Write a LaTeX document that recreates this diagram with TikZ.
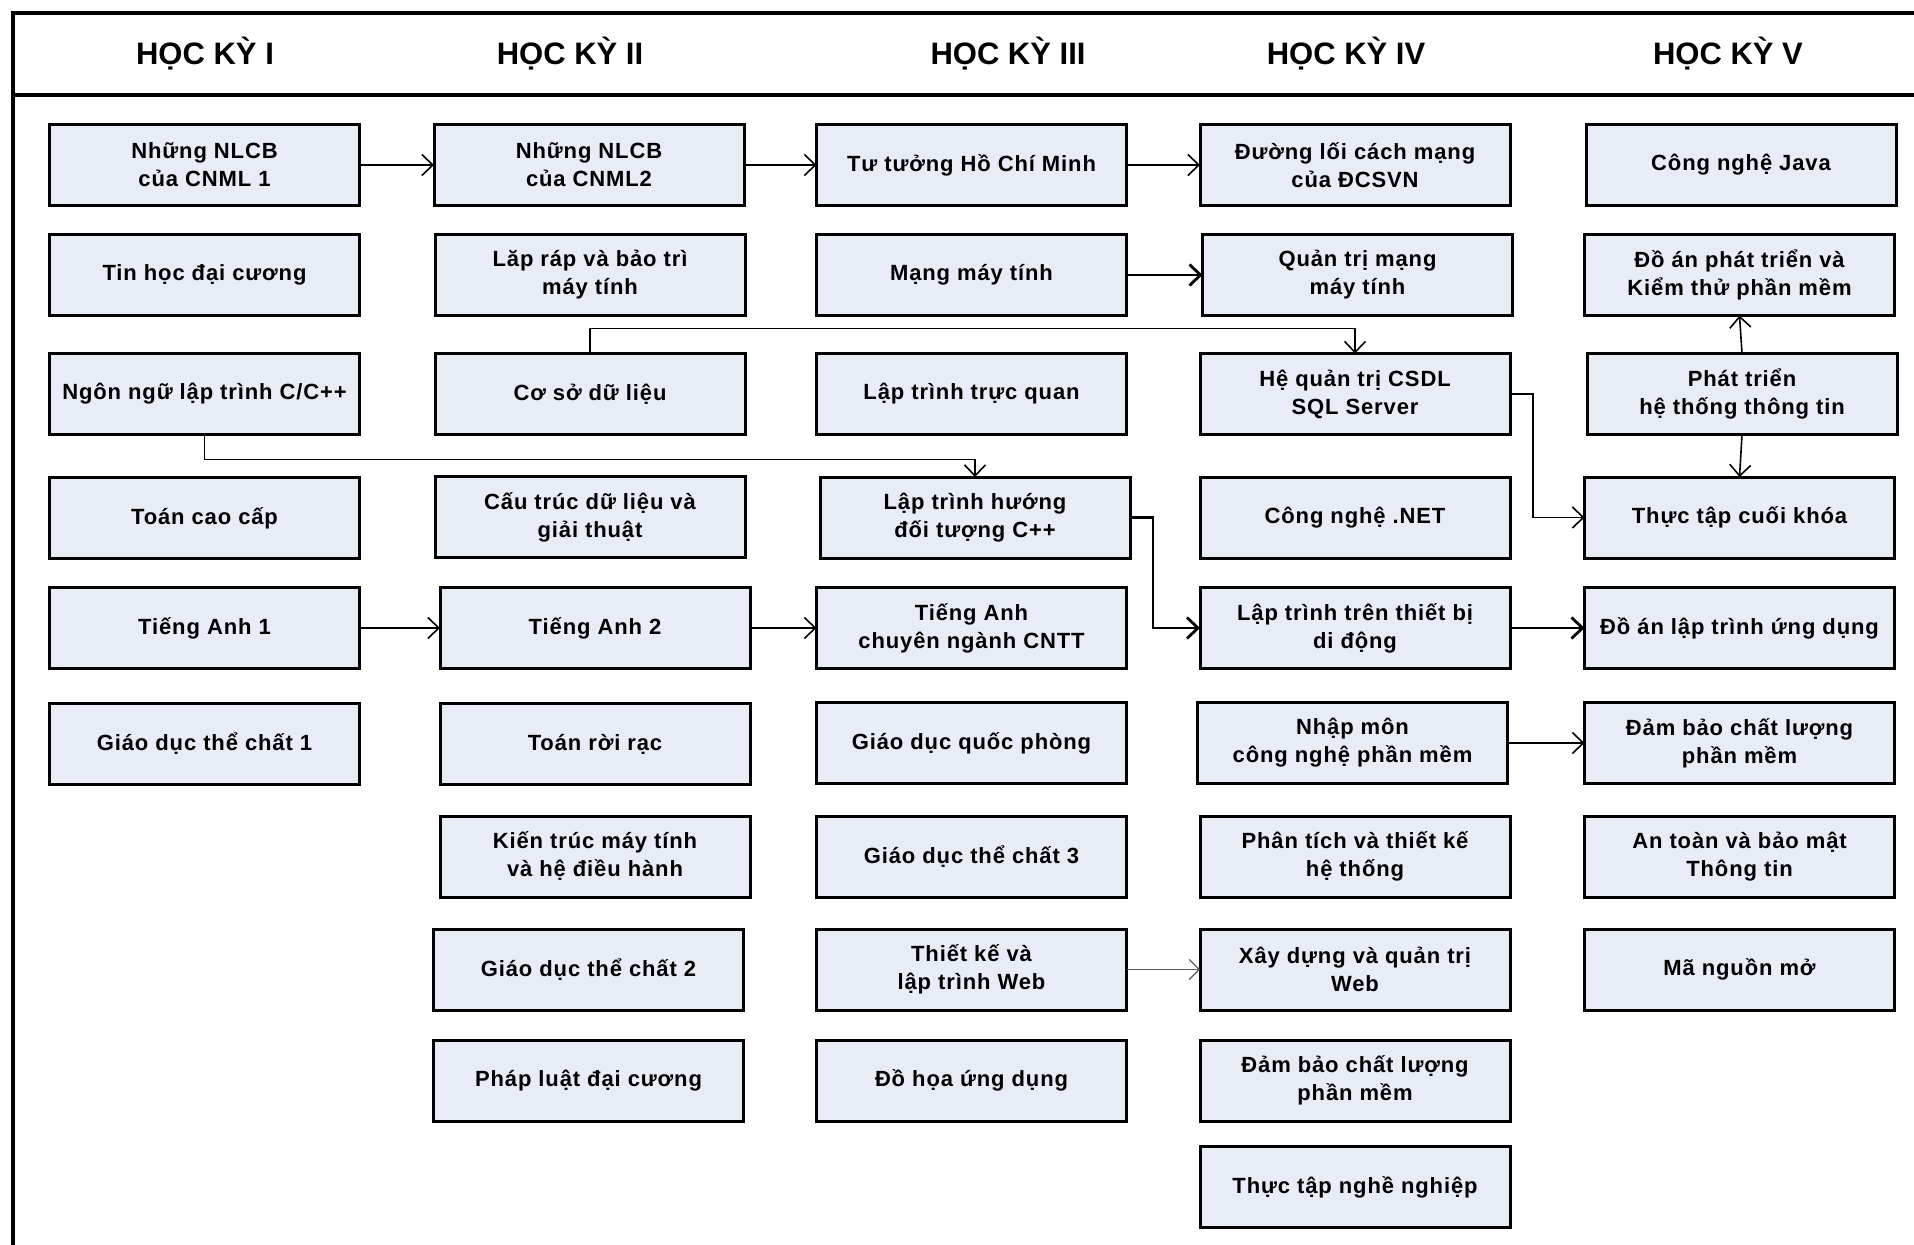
\documentclass[tikz,border=0pt]{standalone}
\usepackage{fontspec}
\setmainfont{Liberation Sans}
\newfontfamily\boxfont[LetterSpace=4]{Liberation Sans}
\usetikzlibrary{arrows.meta}
\definecolor{boxfill}{HTML}{E7ECF6}
\begin{document}
\begin{tikzpicture}[x=0.5pt,y=-0.5pt,
  box/.style={draw=black, line width=1.5pt, fill=boxfill, minimum width=155pt, minimum height=40.5pt,
    inner sep=0pt, outer sep=0pt, align=center, font=\boxfont\bfseries\fontsize{11}{14}\selectfont},
  hdr/.style={font=\bfseries\fontsize{15.5}{18}\selectfont, inner sep=0pt},
  conn/.style={line width=0.8pt, -{Straight Barb[length=5.5pt,width=10.5pt]}},
  thickconn/.style={line width=1.4pt, -{Straight Barb[length=5.5pt,width=10.5pt]}},
  faintconn/.style={line width=0.6pt, draw=black!65, -{Straight Barb[length=5pt,width=10pt]}}
]
\useasboundingbox (0,0) rectangle (1914,1245);
% frame
\draw[line width=2.3pt, line join=miter] (13,1245) -- (13,13) -- (1914,13);
\draw[line width=2pt] (13,95) -- (1914,95);
% headers
\node[hdr] (h1) at (205,54) {HỌC KỲ I};
\node[hdr] (h2) at (570,54) {HỌC KỲ II};
\node[hdr] (h3) at (1008,54) {HỌC KỲ III};
\node[hdr] (h4) at (1346,54) {HỌC KỲ IV};
\node[hdr] (h5) at (1728,54) {HỌC KỲ V};
% column I
\node[box] (c1r1) at (204.5,165) {Những NLCB\\của CNML 1};
\node[box] (c1r2) at (204.5,275) {Tin học đại cương};
\node[box] (c1r3) at (204.5,394) {Ngôn ngữ lập trình C/C++};
\node[box] (c1r4) at (204.5,518) {Toán cao cấp};
\node[box] (c1r5) at (204.5,628) {Tiếng Anh 1};
\node[box] (c1r6) at (204.5,744) {Giáo dục thể chất 1};
% column II
\node[box] (c2r1) at (589,165) {Những NLCB\\của CNML2};
\node[box] (c2r2) at (590,275) {Lăp ráp và bảo trì\\máy tính};
\node[box] (c2r3) at (590,394) {Cơ sở dữ liệu};
\node[box] (c2r4) at (590,517) {Cấu trúc dữ liệu và\\giải thuật};
\node[box] (c2r5) at (595,628) {Tiếng Anh 2};
\node[box] (c2r6) at (595,744) {Toán rời rạc};
\node[box] (c2r7) at (595,856.5) {Kiến trúc máy tính\\và hệ điều hành};
\node[box] (c2r8) at (588.5,969.5) {Giáo dục thể chất 2};
\node[box] (c2r9) at (588.5,1080.5) {Pháp luật đại cương};
% column III
\node[box] (c3r1) at (971.5,165) {Tư tưởng Hồ Chí Minh};
\node[box] (c3r2) at (971.5,275) {Mạng máy tính};
\node[box] (c3r3) at (971.5,394) {Lập trình trực quan};
\node[box] (c3r4) at (975,517.5) {Lập trình hướng\\đối tượng C++};
\node[box] (c3r5) at (971.5,628) {Tiếng Anh\\chuyên ngành CNTT};
\node[box] (c3r6) at (971.5,743) {Giáo dục quốc phòng};
\node[box] (c3r7) at (971.5,856.5) {Giáo dục thể chất 3};
\node[box] (c3r8) at (971.5,969.5) {Thiết kế và\\lập trình Web};
\node[box] (c3r9) at (971.5,1080.5) {Đồ họa ứng dụng};
% column IV
\node[box] (c4r1) at (1355,165) {Đường lối cách mạng\\của ĐCSVN};
\node[box] (c4r2) at (1357.5,275) {Quản trị mạng\\máy tính};
\node[box] (c4r3) at (1355,394) {Hệ quản trị CSDL\\SQL Server};
\node[box] (c4r4) at (1355,517.5) {Công nghệ .NET};
\node[box] (c4r5) at (1355,628) {Lập trình trên thiết bị\\di động};
\node[box] (c4r6) at (1352.5,743) {Nhập môn\\công nghệ phần mềm};
\node[box] (c4r7) at (1355,856.5) {Phân tích và thiết kế\\hệ thống};
\node[box] (c4r8) at (1355,969.5) {Xây dựng và quản trị\\Web};
\node[box] (c4r9) at (1355,1080.5) {Đảm bảo chất lượng\\phần mềm};
\node[box] (c4r10) at (1355,1187) {Thực tập nghề nghiệp};
% column V
\node[box] (c5r1) at (1741,165) {Công nghệ Java};
\node[box] (c5r2) at (1739.5,275) {Đồ án phát triển và\\Kiểm thử phần mềm};
\node[box] (c5r3) at (1742,394) {Phát triển\\hệ thống thông tin};
\node[box] (c5r4) at (1739.5,517.5) {Thực tập cuối khóa};
\node[box] (c5r5) at (1739.5,628) {Đồ án lập trình ứng dụng};
\node[box] (c5r6) at (1739.5,743) {Đảm bảo chất lượng\\phần mềm};
\node[box] (c5r7) at (1739.5,856.5) {An toàn và bảo mật\\Thông tin};
\node[box] (c5r8) at (1739.5,969.5) {Mã nguồn mở};
% connectors
\draw[conn] (c1r1) -- (c2r1);
\draw[conn] (c2r1) -- (c3r1);
\draw[conn] (c3r1) -- (c4r1);
\draw[thickconn] (c3r2.east) -- (c4r2.west |- c3r2.east);
\draw[conn] (c2r3.north) -- ++(0,-25) -| (c4r3.north);
\draw[conn] (c1r3.south) -- ++(0,25) -| (c3r4.north);
\draw[thickconn] (c3r4.east) -- ++(23,0) |- (c4r5.west);
\draw[conn] (c4r3.east) -- ++(23,0) |- (c5r4.west);
\draw[conn] (c5r3.north) -- (c5r2.south);
\draw[conn] (c5r3.south) -- (c5r4.north);
\draw[thickconn] (c4r5) -- (c5r5);
\draw[conn] (c1r5) -- (c2r5);
\draw[conn] (c2r5) -- (c3r5);
\draw[conn] (c4r6.east) -- (c5r6.west);
\draw[faintconn] (c3r8) -- (c4r8);
\end{tikzpicture}
\end{document}
